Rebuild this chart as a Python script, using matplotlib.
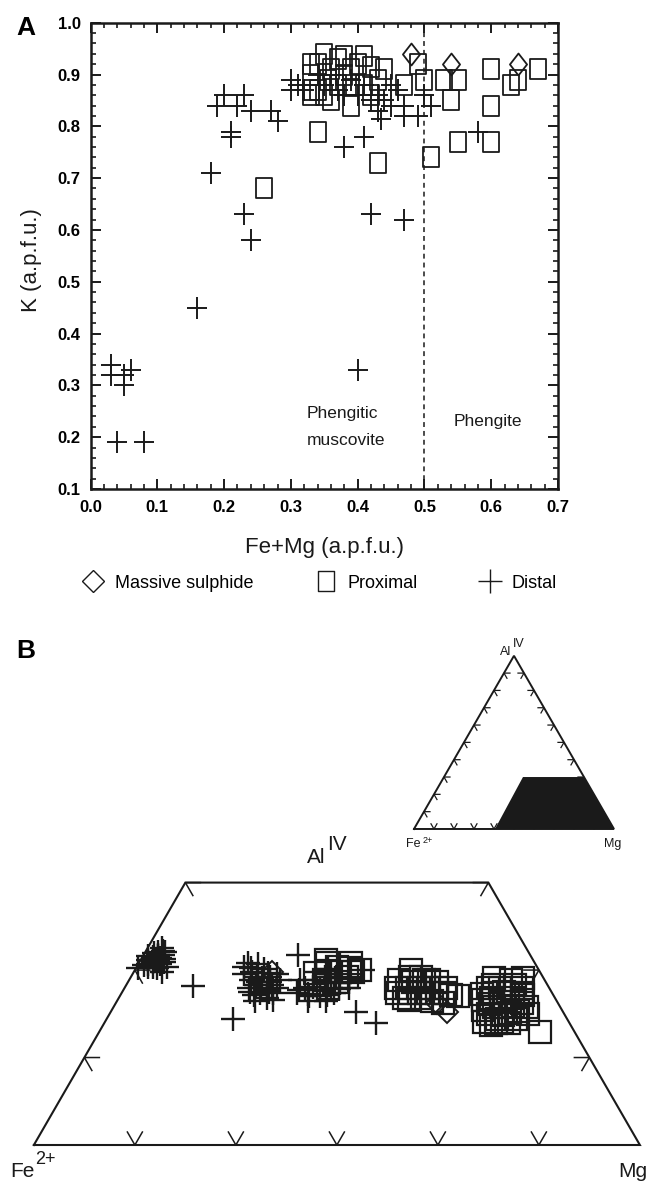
import numpy as np
import matplotlib
matplotlib.use('Agg')
import matplotlib.pyplot as plt
from matplotlib.path import Path
from matplotlib.lines import Line2D
from matplotlib.ticker import MultipleLocator, FormatStrFormatter

plt.rcParams['font.family'] = ['Liberation Sans', 'DejaVu Sans']

# ---------------- panel A : K vs Fe+Mg (a.p.f.u.) ----------------
a_sulph_femg = [0.48, 0.54, 0.64]
a_sulph_k = [0.94, 0.92, 0.92]

a_prox_femg = [0.26, 0.34, 0.43, 0.51, 0.55, 0.60, 0.60, 0.60, 0.63, 0.64, 0.67, 0.49,
               0.50, 0.53, 0.55, 0.54, 0.47,
               0.33, 0.34, 0.35, 0.33, 0.33, 0.36, 0.37, 0.38, 0.39, 0.40, 0.41, 0.34,
               0.355, 0.37, 0.39, 0.38, 0.41, 0.42, 0.44, 0.33, 0.36, 0.39, 0.35, 0.43, 0.42]
a_prox_k = [0.68, 0.79, 0.73, 0.74, 0.77, 0.77, 0.84, 0.91, 0.88, 0.89, 0.91, 0.92,
            0.89, 0.89, 0.89, 0.85, 0.88,
            0.92, 0.92, 0.94, 0.90, 0.87, 0.85, 0.93, 0.90, 0.84, 0.92, 0.88, 0.87,
            0.89, 0.88, 0.88, 0.935, 0.935, 0.915, 0.91, 0.86, 0.91, 0.91, 0.86, 0.89, 0.86]

a_dist_femg = [0.03, 0.03, 0.05, 0.06, 0.05, 0.04, 0.08, 0.16, 0.40, 0.18, 0.23, 0.24,
               0.42, 0.47, 0.19, 0.20, 0.22, 0.23, 0.24, 0.21, 0.21, 0.27, 0.28, 0.38,
               0.41, 0.58, 0.30, 0.30, 0.31, 0.32, 0.41, 0.42, 0.43, 0.435, 0.45, 0.45,
               0.47, 0.47, 0.49, 0.50, 0.51, 0.35, 0.37, 0.39, 0.34, 0.36, 0.40, 0.44,
               0.43, 0.38, 0.46]
a_dist_k = [0.34, 0.32, 0.32, 0.33, 0.30, 0.19, 0.19, 0.45, 0.33, 0.71, 0.63, 0.58,
            0.63, 0.62, 0.84, 0.86, 0.84, 0.86, 0.83, 0.79, 0.78, 0.83, 0.81, 0.76,
            0.78, 0.79, 0.89, 0.87, 0.88, 0.87, 0.88, 0.85, 0.83, 0.815, 0.84, 0.88,
            0.82, 0.84, 0.82, 0.86, 0.84, 0.88, 0.87, 0.89, 0.90, 0.90, 0.86, 0.85,
            0.86, 0.86, 0.87]

# ---------------- panel B : AlIV - Fe2+ - Mg (proportions) ----------------
b_sulph_mg = [0.228, 0.555, 0.530]
b_sulph_al = [0.330, 0.254, 0.270]

b_prox_mg = [0.306, 0.310, 0.300, 0.351, 0.371, 0.356, 0.340, 0.330,
             0.318, 0.345, 0.362, 0.335, 0.322, 0.352,
             0.456, 0.448, 0.481, 0.486, 0.534, 0.558, 0.470, 0.500, 0.520, 0.460,
             0.490, 0.510, 0.540, 0.470, 0.445, 0.500, 0.530,
             0.465, 0.485, 0.505, 0.495, 0.520, 0.478, 0.455, 0.515, 0.545, 0.475,
             0.600, 0.603, 0.646, 0.670, 0.690, 0.638, 0.675, 0.728, 0.620, 0.655,
             0.640, 0.625, 0.612, 0.650, 0.665, 0.660, 0.618, 0.630, 0.645, 0.600,
             0.668, 0.625,
             0.605, 0.615, 0.630, 0.642, 0.658, 0.672, 0.635, 0.650, 0.628, 0.660,
             0.612, 0.682, 0.640, 0.655, 0.595, 0.648]
b_prox_al = [0.353, 0.346, 0.328, 0.346, 0.333, 0.321, 0.330, 0.340,
             0.332, 0.310, 0.330, 0.300, 0.315, 0.338,
             0.333, 0.299, 0.276, 0.314, 0.289, 0.283, 0.310, 0.300, 0.290, 0.320,
             0.290, 0.310, 0.270, 0.280, 0.315, 0.280, 0.300,
             0.300, 0.300, 0.290, 0.315, 0.275, 0.320, 0.290, 0.300, 0.285, 0.290,
             0.318, 0.276, 0.232, 0.270, 0.250, 0.289, 0.240, 0.216, 0.300, 0.300,
             0.262, 0.250, 0.290, 0.280, 0.285, 0.252, 0.268, 0.315, 0.240, 0.300,
             0.232, 0.235,
             0.305, 0.280, 0.292, 0.305, 0.265, 0.255, 0.272, 0.248, 0.262, 0.290,
             0.258, 0.262, 0.228, 0.235, 0.288, 0.318]

b_dist_mg = [0.010, 0.049, 0.046, 0.004, 0.020, 0.025, 0.030, 0.015, 0.028, 0.035,
             0.022, 0.018, 0.032, 0.026, 0.012, 0.038, 0.024,
             0.016, 0.034, 0.021, 0.029, 0.008, 0.040, 0.027, 0.019, 0.033, 0.023,
             0.111, 0.208,
             0.176, 0.181, 0.207, 0.237, 0.257, 0.229, 0.249, 0.223, 0.195, 0.215,
             0.240, 0.190, 0.230, 0.250, 0.205, 0.220, 0.245, 0.185,
             0.200, 0.212, 0.225, 0.235, 0.218, 0.198, 0.242, 0.210, 0.228, 0.238,
             0.252, 0.214,
             0.255, 0.282, 0.310, 0.331, 0.350, 0.351, 0.377, 0.300, 0.320, 0.340,
             0.360, 0.330, 0.290, 0.315, 0.345, 0.370, 0.289, 0.313,
             0.305, 0.325, 0.338, 0.355, 0.318, 0.298, 0.342, 0.365, 0.328, 0.308,
             0.404, 0.449]
b_dist_al = [0.343, 0.340, 0.330, 0.337, 0.355, 0.360, 0.350, 0.365, 0.370, 0.345,
             0.348, 0.358, 0.362, 0.340, 0.352, 0.355, 0.376,
             0.345, 0.338, 0.368, 0.357, 0.360, 0.348, 0.350, 0.340, 0.368, 0.362,
             0.303, 0.241,
             0.340, 0.346, 0.321, 0.295, 0.276, 0.289, 0.314, 0.327, 0.330, 0.310,
             0.305, 0.338, 0.320, 0.290, 0.300, 0.285, 0.280, 0.325,
             0.315, 0.335, 0.300, 0.310, 0.318, 0.345, 0.292, 0.292, 0.275, 0.325,
             0.300, 0.305,
             0.362, 0.314, 0.302, 0.283, 0.289, 0.308, 0.333, 0.330, 0.320, 0.300,
             0.320, 0.310, 0.295, 0.275, 0.275, 0.300, 0.289, 0.283,
             0.315, 0.295, 0.318, 0.298, 0.335, 0.300, 0.285, 0.310, 0.325, 0.288,
             0.254, 0.232]

ink = '#1a1a1a'

# marker shapes of the original (a bit taller than wide)
sq_path = Path([(-0.42, -0.5), (0.42, -0.5), (0.42, 0.5), (-0.42, 0.5), (-0.42, -0.5)],
               [Path.MOVETO, Path.LINETO, Path.LINETO, Path.LINETO, Path.CLOSEPOLY])
cross_path = Path([(-0.43, 0), (0.43, 0), (0, -0.5), (0, 0.5)],
                  [Path.MOVETO, Path.LINETO, Path.MOVETO, Path.LINETO])
dia_path = Path([(0, -0.5), (0.39, 0), (0, 0.5), (-0.39, 0), (0, -0.5)],
                [Path.MOVETO, Path.LINETO, Path.LINETO, Path.LINETO, Path.CLOSEPOLY])

fig = plt.figure(figsize=(6.6, 11.85), dpi=100)

# ---------- panel A ----------
ax = fig.add_axes([90.5 / 660, 1 - 489 / 1185, (558 - 90.5) / 660, (489 - 22.7) / 1185])
ax.plot(a_dist_femg, a_dist_k, ls='none', marker=cross_path, ms=16, mew=1.4,
        mec=ink, mfc='none')
ax.plot(a_prox_femg, a_prox_k, ls='none', marker=sq_path, ms=14.4, mew=1.3,
        mec=ink, mfc='none')
ax.plot(a_sulph_femg, a_sulph_k, ls='none', marker=dia_path, ms=15.8, mew=1.3,
        mec=ink, mfc='none')
ax.axvline(0.5, color=ink, lw=1.1, ls=(0, (3.2, 2.6)))

ax.set_xlim(0, 0.7)
ax.set_ylim(0.1, 1.0)
ax.xaxis.set_major_locator(MultipleLocator(0.1))
ax.xaxis.set_minor_locator(MultipleLocator(0.02))
ax.yaxis.set_major_locator(MultipleLocator(0.1))
ax.yaxis.set_minor_locator(MultipleLocator(0.02))
ax.xaxis.set_major_formatter(FormatStrFormatter('%.1f'))
ax.yaxis.set_major_formatter(FormatStrFormatter('%.1f'))
ax.tick_params(which='both', direction='in', top=True, right=True, color=ink)
ax.tick_params(which='major', length=7.2, width=1.4)
ax.tick_params(which='minor', length=3.6, width=1.2)
ax.tick_params(axis='x', pad=8)
ax.tick_params(axis='y', pad=7)
for lab in ax.get_xticklabels() + ax.get_yticklabels():
    lab.set_family(['Liberation Sans Narrow', 'Liberation Sans'])
    lab.set_fontweight('bold')
    lab.set_fontsize(12)
for sp in ax.spines.values():
    sp.set_linewidth(1.8)
    sp.set_color(ink)

ax.set_xlabel('Fe+Mg (a.p.f.u.)', fontsize=16, color=ink)
ax.set_ylabel('K (a.p.f.u.)', fontsize=16, color=ink)
ax.xaxis.set_label_coords(0.5, -0.103)
ax.yaxis.set_label_coords(-0.103, 0.49)

ax.text(0.324, 0.2465, 'Phengitic', fontsize=12.5, va='center', ha='left', color=ink)
ax.text(0.324, 0.194, 'muscovite', fontsize=12.5, va='center', ha='left', color=ink)
ax.text(0.543, 0.231, 'Phengite', fontsize=12.5, va='center', ha='left', color=ink)

handles = [
    Line2D([], [], ls='none', marker='D', ms=11.2, mew=1.0, mec=ink, mfc='none'),
    Line2D([], [], ls='none', marker=sq_path, ms=14.4, mew=1.0, mec=ink, mfc='none'),
    Line2D([], [], ls='none', marker='+', ms=17, mew=1.0, mec=ink),
]
fig.legend(handles, ['Massive sulphide', 'Proximal', 'Distal'], ncol=3, frameon=False,
           loc='center', bbox_to_anchor=(319.5 / 660, 1 - 583 / 1185), fontsize=13,
           handlelength=1.2, handletextpad=0.6, columnspacing=3.4, borderpad=0,
           numpoints=1)

fig.text(16 / 660, 1 - 35 / 1185, 'A', fontsize=19, fontweight='bold', color='black')
fig.text(16 / 660, 1 - 658 / 1185, 'B', fontsize=19, fontweight='bold', color='black')

# ---------- panel B ----------
axb = fig.add_axes([0, 0, 1, 585 / 1185])
axb.set_xlim(-0.0559, 1.0332)
axb.set_ylim(-0.066, 0.8993)
axb.axis('off')

H = np.sqrt(3) / 2


def tern(mg, al):
    mg = np.asarray(mg, dtype=float)
    al = np.asarray(al, dtype=float)
    return mg + al / 2, al * H


def chevron(a, px, py, angles, length, lw, z=3):
    a1, a2 = np.radians(angles[0]), np.radians(angles[1])
    xs = [px + length * np.cos(a1), px, px + length * np.cos(a2)]
    ys = [py + length * np.sin(a1), py, py + length * np.sin(a2)]
    a.plot(xs, ys, color=ink, lw=lw, solid_joinstyle='miter', zorder=z)


# truncated triangle (AlIV <= 0.5)
trap_mg = [0, 1, 0.5, 0, 0]
trap_al = [0, 0, 0.5, 0.5, 0]
tx, ty = tern(trap_mg, trap_al)
axb.plot(tx, ty, color=ink, lw=1.5, solid_joinstyle='miter', zorder=3)

L = 15 / 606
for k in range(1, 6):
    px, py = tern(k / 6, 0)
    chevron(axb, px, py, (60, 120), L, 1.1)
for k in range(1, 4):
    px, py = tern(0, k / 6)
    chevron(axb, px, py, (0, -60), L, 1.1)
    px, py = tern(1 - k / 6, k / 6)
    chevron(axb, px, py, (180, -120), L, 1.1)

bx, by = tern(b_dist_mg, b_dist_al)
axb.plot(bx, by, ls='none', marker='+', ms=17, mew=1.7, mec=ink, zorder=4)
bx, by = tern(b_prox_mg, b_prox_al)
axb.plot(bx, by, ls='none', marker='s', ms=16, mew=1.6, mec=ink, mfc='none', zorder=4)
bx, by = tern(b_sulph_mg, b_sulph_al)
axb.plot(bx, by, ls='none', marker='D', ms=11, mew=1.4, mec=ink, mfc='none', zorder=4)

axb.text(0.451, 0.465, 'Al', fontsize=15, ha='left', va='baseline', color=ink)
axb.text(0.484, 0.487, 'IV', fontsize=15, ha='left', va='baseline', color=ink)
axb.text(-0.0386, -0.0528, 'Fe', fontsize=15, ha='left', va='baseline', color=ink)
axb.text(0.002, -0.031, '2+', fontsize=13, ha='left', va='baseline', color=ink)
axb.text(1.013, -0.0528, 'Mg', fontsize=15, ha='right', va='baseline', color=ink)

# inset: whole triangle with the shaded field
ix0, iy0, isc = (414 - 33.9) / 606, (1145 - 829) / 606, 200 / 606


def tern_in(mg, al):
    x, y = tern(mg, al)
    return ix0 + isc * x, iy0 + isc * y


ox, oy = tern_in([0, 1, 0, 0], [0, 0, 1, 0])
axb.plot(ox, oy, color=ink, lw=1.4, solid_joinstyle='miter', zorder=3)
Li = 6 / 606
for k in range(1, 10):
    px, py = tern_in(k / 10, 0)
    chevron(axb, px, py, (60, 120), Li, 0.9)
    px, py = tern_in(0, k / 10)
    chevron(axb, px, py, (0, -60), Li, 0.9)
    px, py = tern_in(1 - k / 10, k / 10)
    chevron(axb, px, py, (180, -120), Li, 0.9)

field_mg = [0.405, 0.395, 0.70, 1.0]
field_al = [0.0, 0.30, 0.30, 0.0]
fx, fy = tern_in(field_mg, field_al)
axb.fill(fx, fy, color=ink, lw=0, zorder=5)

axb.text((500 - 33.9) / 606, (1145 - 655) / 606, 'Al', fontsize=9, ha='left',
         va='baseline', color=ink)
axb.text((513 - 33.9) / 606, (1145 - 647) / 606, 'IV', fontsize=9, ha='left',
         va='baseline', color=ink)
axb.text((406 - 33.9) / 606, (1145 - 847) / 606, 'Fe', fontsize=9, ha='left',
         va='baseline', color=ink)
axb.text((423 - 33.9) / 606, (1145 - 843) / 606, '2+', fontsize=6.5, ha='left',
         va='baseline', color=ink)
axb.text((621 - 33.9) / 606, (1145 - 847) / 606, 'Mg', fontsize=9, ha='right',
         va='baseline', color=ink)

fig.savefig('out.png', dpi=100)
